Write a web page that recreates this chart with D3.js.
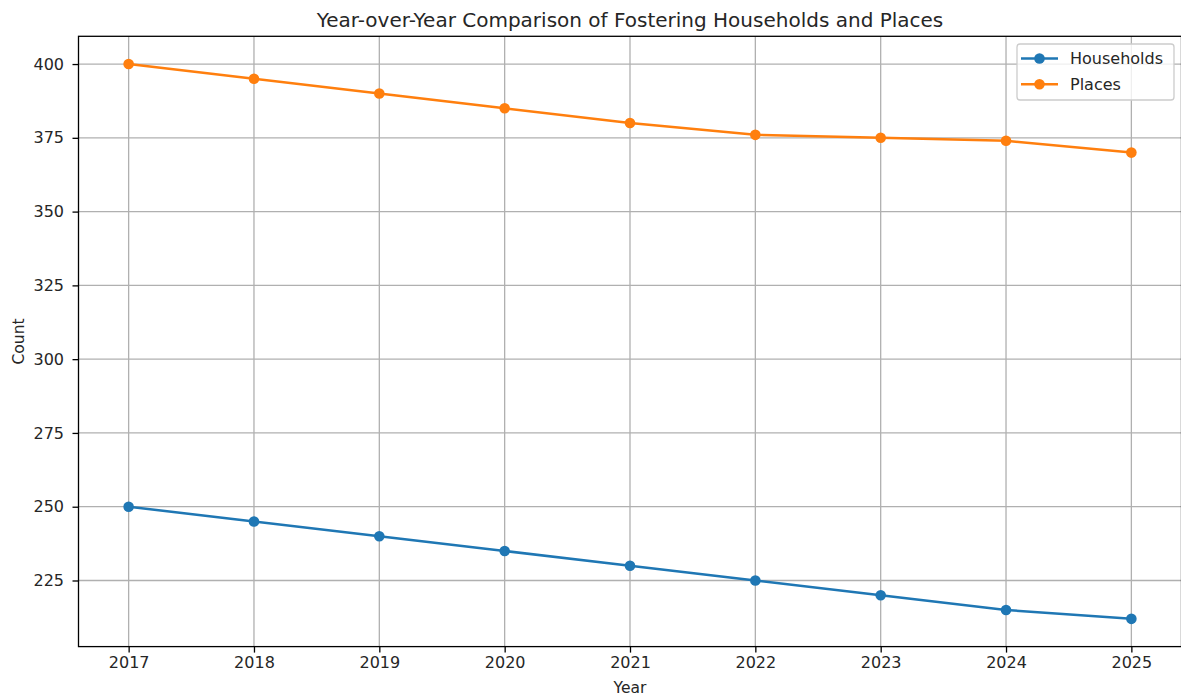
<!DOCTYPE html>
<html><head><meta charset="utf-8">
<script src="https://cdn.jsdelivr.net/npm/d3@7"></script>
<style>body{margin:0;background:#fff;} text{font-family:"DejaVu Sans",sans-serif;fill:#262626;}</style>
</head><body>
<svg id="c" width="1181" height="698"></svg>
<script>
const years = [2017,2018,2019,2020,2021,2022,2023,2024,2025];
const households = [250,245,240,235,230,225,220,215,212];
const places = [400,395,390,385,380,376,375,374,370];
const yTicks = [225,250,275,300,325,350,375,400];
const seriesNames = ["Households","Places"];
const colors = ["#1f77b4","#ff7f0e"];

const svg = d3.select("#c");
const L=78.5, R=1181.5, T=36.3, B=646.6;
const x = d3.scaleLinear().domain([2017-0.4, 2025+0.4]).range([L,R]);
const yMin=212, yMax=400, pad=(yMax-yMin)*0.05;
const y = d3.scaleLinear().domain([yMin-pad, yMax+pad]).range([B,T]);

// grid
const g = svg.append("g");
g.selectAll(".vx").data(years).join("line").attr("x1",d=>x(d)).attr("x2",d=>x(d)).attr("y1",T).attr("y2",B).attr("stroke","#b0b0b0").attr("stroke-width",1.3);
g.selectAll(".hy").data(yTicks).join("line").attr("y1",d=>y(d)).attr("y2",d=>y(d)).attr("x1",L).attr("x2",R).attr("stroke","#b0b0b0").attr("stroke-width",1.3);

// axes
const xa = svg.append("g").attr("transform",`translate(0,${B})`).call(d3.axisBottom(x).tickValues(years).tickFormat(d3.format("d")).tickSize(6).tickPadding(4.5));
const ya = svg.append("g").attr("transform",`translate(${L},0)`).call(d3.axisLeft(y).tickValues(yTicks).tickSize(6).tickPadding(8.5));
[xa,ya].forEach(a=>{a.select(".domain").remove();a.selectAll("line").attr("stroke","#000").attr("stroke-width",1.3);a.selectAll("text").attr("font-size","16px").attr("fill","#262626").style("font-family","DejaVu Sans");});

// frame
svg.append("rect").attr("x",L).attr("y",T).attr("width",R-L).attr("height",B-T).attr("fill","none").attr("stroke","#000").attr("stroke-width",1.3);

// lines
const data = [households, places];
const line = d3.line().x((d,i)=>x(years[i])).y(d=>y(d));
data.forEach((s,k)=>{
  svg.append("path").datum(s).attr("d",line).attr("fill","none").attr("stroke",colors[k]).attr("stroke-width",2.5);
  svg.append("g").selectAll("circle").data(s).join("circle").attr("cx",(d,i)=>x(years[i])).attr("cy",d=>y(d)).attr("r",5.3).attr("fill",colors[k]);
});

// title & labels
svg.append("text").attr("x",(L+R)/2).attr("y",26.5).attr("text-anchor","middle").attr("font-size","20px").text("Year-over-Year Comparison of Fostering Households and Places");
svg.append("text").attr("x",(L+R)/2).attr("y",693).attr("text-anchor","middle").attr("font-size","15.5px").text("Year");
svg.append("text").attr("transform",`translate(23.5,${(T+B)/2}) rotate(-90)`).attr("text-anchor","middle").attr("font-size","15.5px").text("Count");

// legend
const lg = svg.append("g");
lg.append("rect").attr("x",1017).attr("y",44).attr("width",157).attr("height",56).attr("rx",3).attr("fill","#fff").attr("fill-opacity",0.8).attr("stroke","#cccccc").attr("stroke-width",1.3);
seriesNames.forEach((n,k)=>{
  const yy = 58.5 + k*25.7;
  lg.append("line").attr("x1",1021).attr("x2",1058).attr("y1",yy).attr("y2",yy).attr("stroke",colors[k]).attr("stroke-width",2.5);
  lg.append("circle").attr("cx",1039.5).attr("cy",yy).attr("r",5.3).attr("fill",colors[k]);
  lg.append("text").attr("x",1070).attr("y",yy+5.8).attr("font-size","16px").text(n);
});
</script>
</body></html>
